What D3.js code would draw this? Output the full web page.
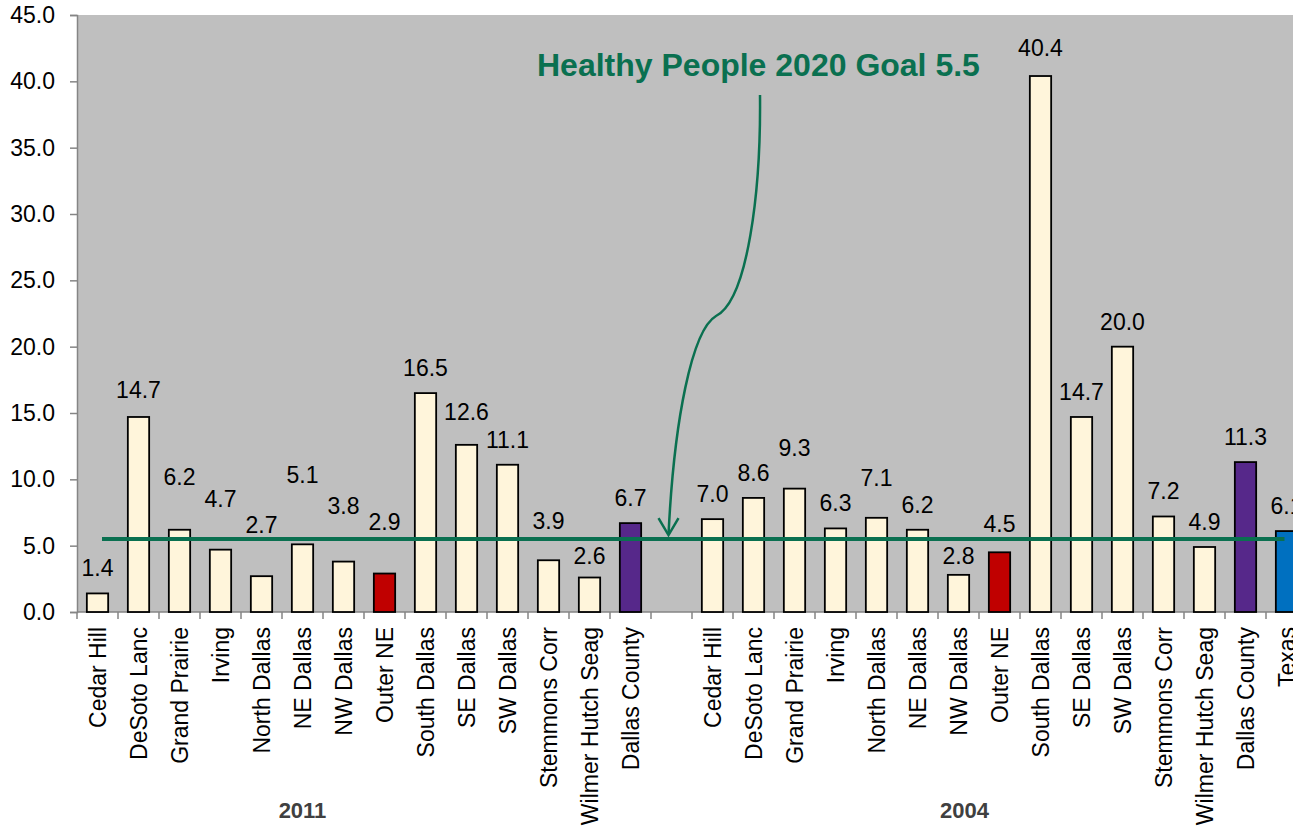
<!DOCTYPE html>
<html>
<head>
<meta charset="utf-8">
<script src="https://cdn.jsdelivr.net/npm/d3@7"></script>
<style>
  html, body { margin: 0; padding: 0; background: #fff; overflow: hidden; }
  #chart { width: 1293px; height: 836px; }
  text { font-family: "Liberation Sans", Arial, sans-serif; }
</style>
</head>
<body>
<div id="chart"></div>
<script>
// Rates by region, 2011 vs 2004, with the Healthy People 2020 goal line
const regions = ["Cedar Hill", "DeSoto Lanc", "Grand Prairie", "Irving", "North Dallas", "NE Dallas",
    "NW Dallas", "Outer NE", "South Dallas", "SE Dallas", "SW Dallas", "Stemmons Corr",
    "Wilmer Hutch Seag", "Dallas County"];
const rates2011 = [1.4, 14.7, 6.2, 4.7, 2.7, 5.1, 3.8, 2.9, 16.5, 12.6, 11.1, 3.9, 2.6, 6.7];
const rates2004 = [7.0, 8.6, 9.3, 6.3, 7.1, 6.2, 2.8, 4.5, 40.4, 14.7, 20.0, 7.2, 4.9, 11.3];
const texasLabel = "Texas";
const texas2004 = 6.1;
const years = ["2011", "2004"];
const goal = 5.5;
const yTicks = [0, 5, 10, 15, 20, 25, 30, 35, 40, 45];

// vertical nudges (px) for value labels, same order as the bars
const labelNudge = [0, -2, -28, -26, -26, -44, -31, -27, 0, -8, 0, -14, 3, 0,
    0, 0, -16, 0, -15, 0, 6, -3, -3, 0, 0, 0, 0, 0, 0];

(() => {
    const W = 1293, H = 836;
    const m = { left: 77, top: 15, bottom: 224 };
    const band = 41;

    // bars + one empty slot between the two years
    const bars = [
        ...regions.map((r, i) => ({ key: `2011|${r}`, name: r, value: rates2011[i] })),
        { key: "gap", name: "", value: null },
        ...regions.map((r, i) => ({ key: `2004|${r}`, name: r, value: rates2004[i] })),
        { key: `2004|${texasLabel}`, name: texasLabel, value: texas2004 }
    ];
    const valued = bars.filter(d => d.value !== null);

    const colorOf = name => name === "Outer NE" ? "#c00000"
        : name === "Dallas County" ? "#56288a"
        : name === texasLabel ? "#0070c0" : "#fff5db";

    const x = d3.scaleBand().domain(bars.map(d => d.key))
        .range([m.left, m.left + band * bars.length]).padding(0);
    const y = d3.scaleLinear().domain([0, 45]).range([H - m.bottom, m.top]);
    const y0 = y(0);
    const bw = x.bandwidth();
    const barW = bw * 0.52;
    const mid = k => x(k) + bw / 2;

    const svg = d3.select("#chart").append("svg").attr("width", W).attr("height", H);

    // plot background
    svg.append("rect").attr("x", m.left).attr("y", m.top)
        .attr("width", W - m.left).attr("height", y0 - m.top).attr("fill", "#bfbfbf");

    // y axis
    const yAxis = svg.append("g").attr("transform", `translate(${m.left},0)`)
        .call(d3.axisLeft(y).tickValues(yTicks).tickFormat(d3.format(".1f")).tickSizeOuter(0).tickSize(7).tickPadding(15));
    yAxis.select(".domain").attr("stroke", "#858585").attr("stroke-width", 1.5);
    yAxis.selectAll(".tick line").attr("stroke", "#858585").attr("stroke-width", 1.5);
    yAxis.selectAll(".tick text").attr("font-size", 23).attr("fill", "#000")
        .attr("font-family", "'Liberation Sans', Arial, sans-serif");

    // x axis: ticks on band boundaries
    svg.append("line").attr("x1", m.left).attr("x2", W).attr("y1", y0).attr("y2", y0)
        .attr("stroke", "#858585").attr("stroke-width", 1.5);
    svg.append("g").selectAll("line").data(bars).join("line")
        .attr("x1", d => x(d.key)).attr("x2", d => x(d.key))
        .attr("y1", y0).attr("y2", y0 + 7)
        .attr("stroke", "#858585").attr("stroke-width", 1.5);

    // bars
    svg.append("g").selectAll("rect").data(valued).join("rect")
        .attr("x", d => x(d.key) + (bw - barW) / 2)
        .attr("y", d => y(d.value))
        .attr("width", barW)
        .attr("height", d => y0 - y(d.value))
        .attr("fill", d => colorOf(d.name))
        .attr("stroke", "#000").attr("stroke-width", 1.8);

    // goal line
    const green = "#0a7050";
    svg.append("line")
        .attr("x1", x(bars[0].key) + 25).attr("x2", mid(bars[bars.length - 1].key) - 2)
        .attr("y1", y(goal)).attr("y2", y(goal))
        .attr("stroke", green).attr("stroke-width", 4);

    // value labels
    svg.append("g").selectAll("text").data(valued).join("text")
        .attr("x", d => mid(d.key))
        .attr("y", (d, i) => y(d.value) - 17 + labelNudge[i])
        .attr("text-anchor", "middle").attr("font-size", 23).attr("fill", "#000")
        .text(d => d.value.toFixed(1));

    // category labels
    svg.append("g").selectAll("text").data(bars.filter(d => d.name)).join("text")
        .attr("transform", d => `translate(${mid(d.key)},${y0 + 15}) rotate(-90)`)
        .attr("dy", "0.35em").attr("text-anchor", "end")
        .attr("font-size", 23).attr("fill", "#000")
        .text(d => d.name);

    // year labels
    const yearAt = [mid("2011|NE Dallas"), mid("2004|NW Dallas") + 6];
    svg.append("g").selectAll("text").data(years).join("text")
        .attr("x", (d, i) => yearAt[i]).attr("y", 818)
        .attr("text-anchor", "middle").attr("font-size", 22).attr("font-weight", "bold")
        .attr("fill", "#404040")
        .text(d => d);

    // goal annotation + curly arrow
    svg.append("text").attr("x", 537).attr("y", 76)
        .attr("font-size", 32).attr("font-weight", "bold").attr("fill", green)
        .text(`Healthy People 2020 Goal ${goal}`);

    const tipX = mid("gap") - 3, tipY = y(goal) - 4;
    svg.append("path")
        .attr("d", `M760,95 C761,190 748,300 716,316 C692,330 674,420 ${tipX},${tipY}`)
        .attr("fill", "none").attr("stroke", green).attr("stroke-width", 2.5);
    svg.append("path")
        .attr("d", `M${tipX - 10},${tipY - 17} L${tipX},${tipY} L${tipX + 10},${tipY - 17}`)
        .attr("fill", "none").attr("stroke", green).attr("stroke-width", 2.5);
})();
</script>
</body>
</html>
